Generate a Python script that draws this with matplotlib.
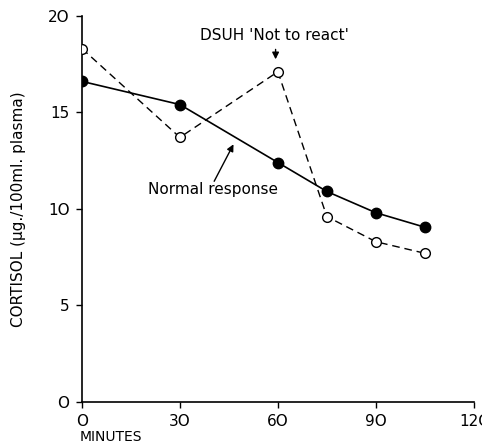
import matplotlib
matplotlib.use("Agg")
import matplotlib.pyplot as plt

minutes = [0, 30, 60, 75, 90, 105]
normal = [16.6, 15.4, 12.4, 10.9, 9.8, 9.05]
dsuh = [18.3, 13.7, 17.1, 9.6, 8.3, 7.7]
xticks = [0, 30, 60, 90, 120]
xticklabels = ["O", "3O", "6O", "9O", "12C"]
yticks = [0, 5, 10, 15, 20]
yticklabels = ["O", "5", "1O", "15", "2O"]

plt.rcParams['font.family'] = ['DejaVu Sans']

fig = plt.figure(figsize=(4.82, 4.44), dpi=100)
ax = fig.add_axes([0.170, 0.0946, 0.813, 0.870])

ax.plot(minutes, normal, '-', color='black', lw=1.2, marker='o', ms=7.5,
        mfc='black', mec='black', zorder=3)
ax.plot(minutes, dsuh, color='black', lw=1.0, ls=(0, (5.5, 3.5)), marker='o', ms=7,
        mfc='white', mec='black', mew=1.0, zorder=3)

ax.set_xlim(0, 120)
ax.set_ylim(0, 20)
for s in ['top', 'right']:
    ax.spines[s].set_visible(False)
for s in ['left', 'bottom']:
    ax.spines[s].set_linewidth(1.2)
ax.set_xticks(xticks)
ax.set_xticklabels(xticklabels)
ax.set_yticks(yticks)
ax.set_yticklabels(yticklabels)
ax.tick_params(direction='out', length=4, width=1.0, labelsize=11, pad=5)

ax.set_ylabel("CORTISOL (\u03bcg./100ml. plasma)", fontsize=11, labelpad=16)
ax.text(-0.005, -0.09, "MINUTES", transform=ax.transAxes, fontsize=10,
        ha='left', va='center')

ax.text(36.1, 18.96, "DSUH 'Not to react'", fontsize=11, ha='left', va='center')
ax.annotate("", xy=(59.3, 17.6), xytext=(59.3, 18.4),
            arrowprops=dict(arrowstyle='-|>', color='black', lw=1.0,
                            mutation_scale=10))
ax.text(20.2, 11.0, "Normal response", fontsize=11, ha='left', va='center')
ax.annotate("", xy=(46.8, 13.47), xytext=(40.1, 11.3),
            arrowprops=dict(arrowstyle='-|>', color='black', lw=1.0,
                            mutation_scale=10))

fig.savefig("out.png", dpi=100)
